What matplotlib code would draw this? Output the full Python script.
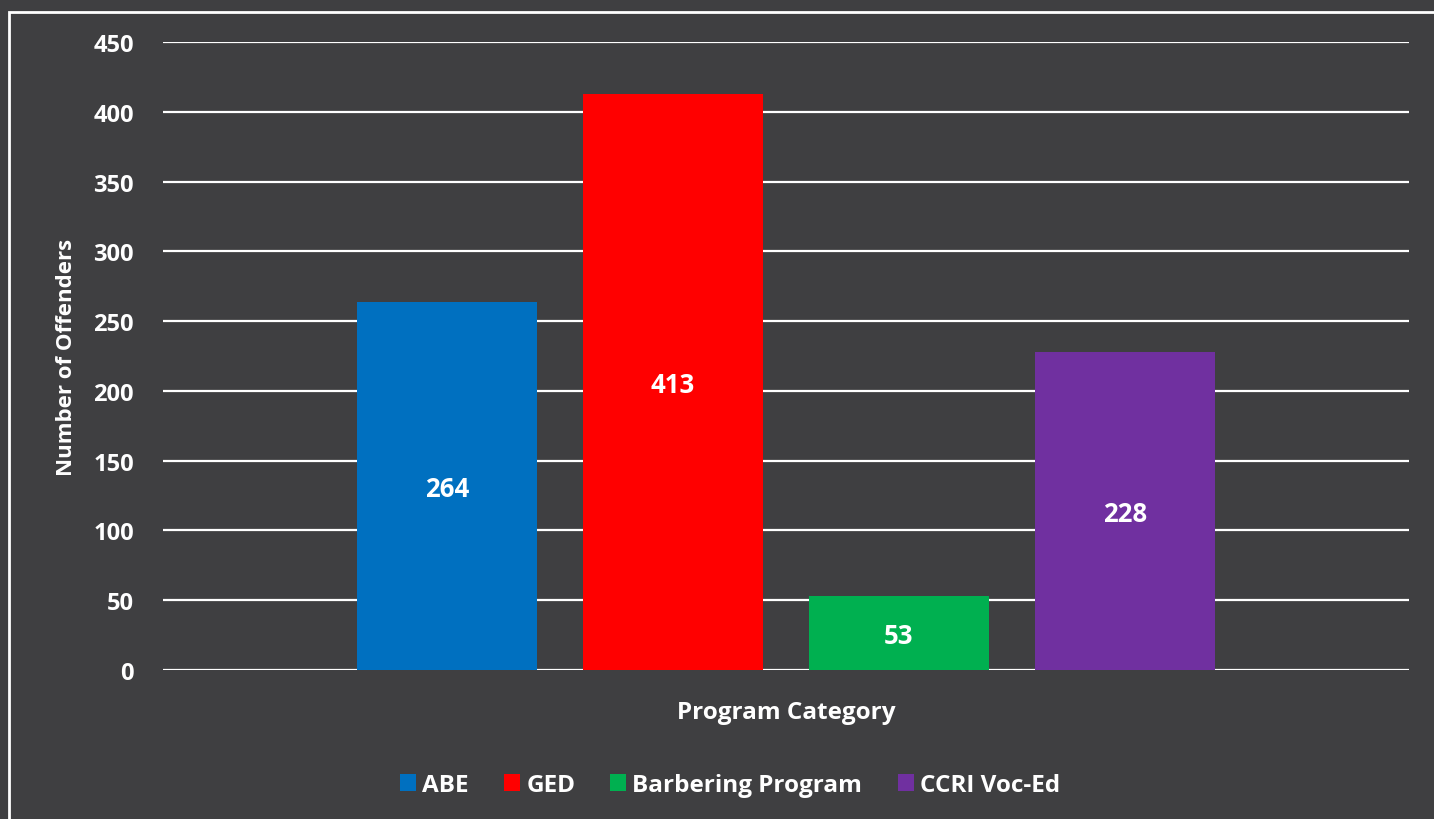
import matplotlib.pyplot as plt
from matplotlib.patches import Rectangle

# data
programs = ["ABE", "GED", "Barbering Program", "CCRI Voc-Ed"]
offenders = [264, 413, 53, 228]
colors = ["#0070C0", "#FF0000", "#00B050", "#7030A0"]
yticks = [0, 50, 100, 150, 200, 250, 300, 350, 400, 450]

bg = "#3f3f41"
plt.rcParams['font.family'] = ['Open Sans', 'DejaVu Sans']
plt.rcParams['font.weight'] = 'bold'

fig = plt.figure(figsize=(14.34, 8.2), dpi=100, facecolor=bg)
ax = fig.add_axes([163/1434, 1-671/820, 1246/1434, 628/820], facecolor=bg)

# white frame round the chart
fig.patches.append(Rectangle((8.5/1434, 0 - 0.05), 1.2, 1 - 12.5/820 + 0.05,
                             transform=fig.transFigure, fill=False,
                             edgecolor="white", lw=2, zorder=0))

xs = range(len(programs))
bars = ax.bar(xs, offenders, width=0.796, color=colors, label=programs, zorder=3)
for x, v in zip(xs, offenders):
    ax.text(x, v / 2 - 2, str(v), ha="center", va="center", color="white",
            fontsize=18.5, fontweight="bold", zorder=4)

ax.set_xlim(-1.2566, 4.257)
ax.set_ylim(0, 450)
ax.set_yticks(yticks)
ax.set_xticks([])
ax.grid(axis="y", color="white", lw=1.6, zorder=1)
for s in ax.spines.values():
    s.set_visible(False)
ax.tick_params(axis="y", length=0, pad=21, colors="white", labelsize=17)
for t in ax.get_yticklabels():
    t.set_fontweight("bold")

ax.set_ylabel("Number of Offenders", color="white", fontsize=16,
              fontweight="bold", labelpad=12)
fig.text(786/1434, 1-713/820, "Program Category", color="white", fontsize=17.5,
         fontweight="bold", ha="center", va="center")

leg = fig.legend(bars, programs, loc="center", bbox_to_anchor=(730/1434, 1-786/820),
                 ncol=4, frameon=False, fontsize=17.5, handlelength=0.66,
                 handleheight=0.7, handletextpad=0.25, columnspacing=1.45)
for t in leg.get_texts():
    t.set_color("white")
    t.set_fontweight("bold")

fig.savefig("out.png", dpi=100, facecolor=bg)
